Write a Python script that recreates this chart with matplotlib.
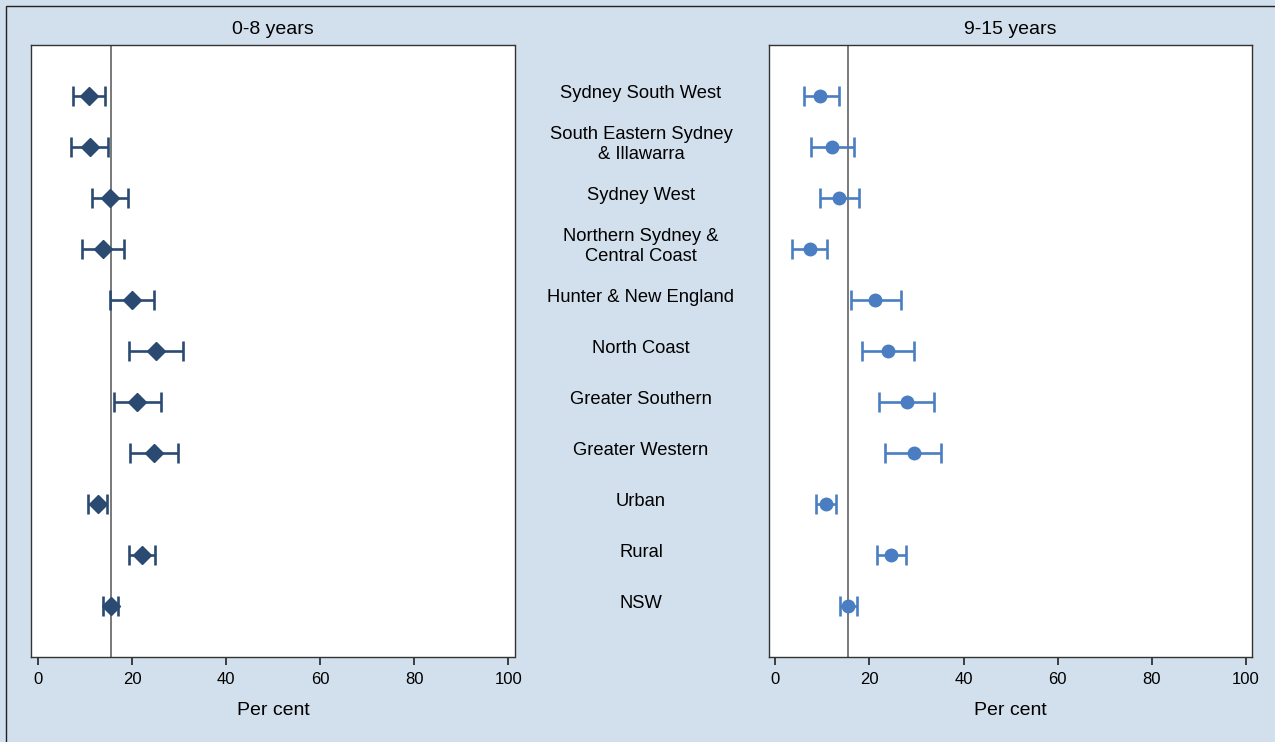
import numpy as np
import matplotlib.pyplot as plt
from matplotlib.patches import Rectangle
from matplotlib.transforms import blended_transform_factory

plt.rcParams['font.family'] = ['Liberation Sans', 'DejaVu Sans']

#regions, top to bottom
regions = ['Sydney South West', 'South Eastern Sydney\n& Illawarra', 'Sydney West',
	'Northern Sydney &\nCentral Coast', 'Hunter & New England', 'North Coast',
	'Greater Southern', 'Greater Western', 'Urban', 'Rural', 'NSW']

#0-8 years: estimate, lower, upper (per cent)
young_est = [10.9, 11.0, 15.4, 13.8, 19.9, 25.1, 21.1, 24.6, 12.7, 22.1, 15.5]
young_lo = [7.4, 7.1, 11.4, 9.3, 15.3, 19.3, 16.2, 19.5, 10.7, 19.4, 13.8]
young_hi = [14.2, 14.9, 19.2, 18.2, 24.7, 30.9, 26.1, 29.8, 14.7, 24.8, 17.1]

#9-15 years
older_est = [9.6, 12.0, 13.5, 7.3, 21.2, 24.0, 27.9, 29.4, 10.7, 24.6, 15.4]
older_lo = [6.0, 7.5, 9.6, 3.6, 16.0, 18.5, 22.1, 23.4, 8.7, 21.7, 13.7]
older_hi = [13.5, 16.7, 17.7, 11.0, 26.7, 29.5, 33.7, 35.3, 12.8, 27.7, 17.3]

ref_line = 15.5
titles = ['0-8 years', '9-15 years']
xticks = [0, 20, 40, 60, 80, 100]

bg = '#d2dfec'
fig = plt.figure(figsize=(12.75, 7.42), dpi=100, facecolor=bg)
#outer frame, only top and left edges fall inside the picture
fig.patches.append(Rectangle((6/1275, -0.05), 1.2, 1 - 6/742 + 0.05, transform=fig.transFigure,
	facecolor='none', edgecolor='#222222', linewidth=1.0))

ax1 = fig.add_axes([31.3/1275, 85/742, 483.2/1275, 612.2/742])
ax2 = fig.add_axes([768.7/1275, 85/742, 483.3/1275, 612.2/742])

ypos = np.arange(1, len(regions) + 1)

def draw_panel(ax, est, lo, hi, color, marker, msize, title):
	est = np.array(est)
	err = [est - np.array(lo), np.array(hi) - est]
	ax.axvline(ref_line, color='#555555', linewidth=1.1, zorder=1)
	ax.errorbar(est, ypos, xerr=err, fmt=marker, color=color, markersize=msize,
		ecolor=color, elinewidth=1.9, capsize=7.5, capthick=1.9, zorder=3)
	ax.set_xlim(-1.4, 101.3)
	ax.set_ylim(12, 0)
	ax.set_yticks([])
	ax.set_xticks(xticks)
	ax.tick_params(axis='x', length=5.5, width=1.2, labelsize=12, color='#222222', pad=5)
	ax.set_xlabel('Per cent', fontsize=14, labelpad=11)
	ax.set_title(title, fontsize=14, pad=8)
	ax.set_facecolor('white')
	for s in ax.spines.values():
		s.set_color('#333333')
		s.set_linewidth(1.0)

draw_panel(ax1, young_est, young_lo, young_hi, '#2b4a72', 'D', 9.5, titles[0])
draw_panel(ax2, older_est, older_lo, older_hi, '#4a7dc2', 'o', 9, titles[1])

#region names in the middle column
trans = blended_transform_factory(fig.transFigure, ax1.transData)
for y, name in zip(ypos, regions):
	ax1.text(641/1275, y - 0.05, name, transform=trans, ha='center', va='center',
		fontsize=13.2, linespacing=1.25, clip_on=False)

plt.savefig('out.png', dpi=100, facecolor=bg)
